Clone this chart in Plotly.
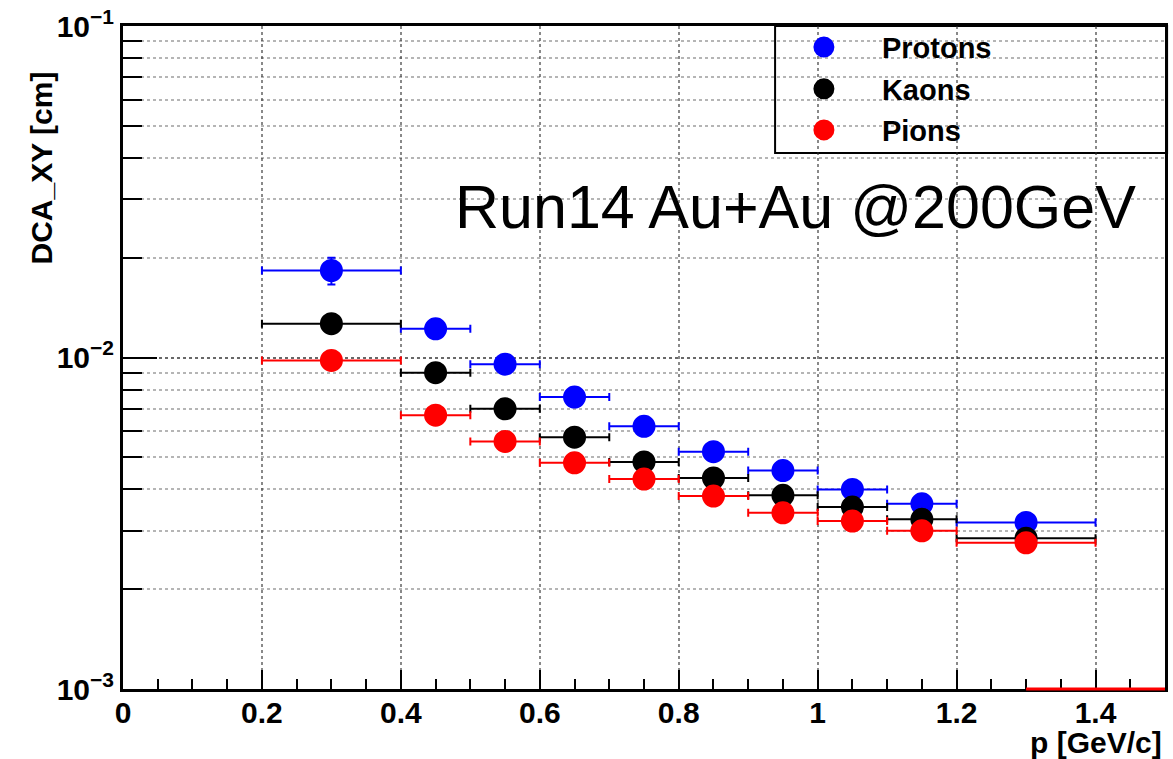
import plotly.graph_objects as go

# momentum bins (GeV/c): centres and half-widths
p_center = [0.3, 0.45, 0.55, 0.65, 0.75, 0.85, 0.95, 1.05, 1.15, 1.3]
p_halfwidth = [0.1, 0.05, 0.05, 0.05, 0.05, 0.05, 0.05, 0.05, 0.05, 0.1]

# DCA_XY resolution (cm) per species
protons = [0.0183, 0.0122, 0.00955, 0.0076, 0.0062, 0.0052, 0.00456, 0.0040, 0.00362, 0.00318]
protons_err = [0.0017, 0.0004, 0.0003, 0.0002, 0.00015, 0.00012, 0.0001, 0.0001, 0.0001, 0.0001]
kaons = [0.01265, 0.0090, 0.0070, 0.00575, 0.00484, 0.00433, 0.00384, 0.00354, 0.00325, 0.00285]
kaons_err = [0.0006, 0.0003, 0.0002, 0.00015, 0.0001, 0.0001, 0.0001, 0.0001, 0.0001, 0.0001]
pions = [0.0098, 0.0067, 0.00558, 0.00481, 0.0043, 0.00382, 0.0034, 0.00321, 0.0030, 0.00276]
pions_err = [0.0003, 0.0002, 0.00015, 0.0001, 0.0001, 0.0001, 0.0001, 0.0001, 0.0001, 0.0001]

# pion bins that fall below the axis floor
pion_floor_x = [1.3, 1.5]

species = [
    ("Protons", protons, protons_err, "#0000ff", "legend", 0.968),
    ("Kaons", kaons, kaons_err, "#000000", "legend2", 0.905),
    ("Pions", pions, pions_err, "#ff0000", "legend3", 0.843),
]

y_tickvals = [1e-3, 1e-2, 1e-1]
y_ticktext = ["10<sup>\u22123</sup>", "10<sup>\u22122</sup>", "10<sup>\u22121</sup>"]

FONT = "Liberation Sans"
GRID = "rgba(40,40,40,0.55)"

fig = go.Figure()
legends = {}
for name, vals, errs, color, leg, ly in species:
    fig.add_trace(go.Scatter(
        x=p_center, y=vals, mode="markers", name=name, legend=leg,
        # outline in the same colour keeps the legend symbols full-sized
        marker=dict(symbol="circle", size=18, color=color,
                    line=dict(color=color, width=5)),
        error_x=dict(type="data", array=p_halfwidth, color=color, thickness=2, width=4),
        error_y=dict(type="data", array=errs, color=color, thickness=2, width=4),
    ))
    legends[leg] = dict(
        x=0.617, y=ly, xanchor="left", yanchor="middle",
        bgcolor="rgba(0,0,0,0)", borderwidth=0, itemwidth=106,
        font=dict(family=FONT, size=29, color="black", weight="bold"),
    )

fig.update_layout(
    width=1173, height=759,
    margin=dict(l=123, r=5, t=26, b=70),
    paper_bgcolor="white", plot_bgcolor="white",
    showlegend=True,
    **legends,
    xaxis=dict(
        range=[0, 1.5], dtick=0.2, tick0=0,
        ticks="inside", ticklen=19, tickwidth=2, tickcolor="black",
        showline=True, linewidth=3, linecolor="black", mirror=True,
        showgrid=True, gridcolor=GRID, griddash="dot", gridwidth=1.5,
        zeroline=False, ticklabelstandoff=-5,
        tickfont=dict(family=FONT, size=30, color="black", weight="bold"),
        minor=dict(dtick=0.05, ticks="inside", ticklen=10, tickwidth=2,
                   tickcolor="black", showgrid=False),
    ),
    yaxis=dict(
        type="log", range=[-3, -1],
        tickmode="array", tickvals=y_tickvals, ticktext=y_ticktext,
        ticks="inside", ticklen=34, tickwidth=2, tickcolor="black",
        showline=True, linewidth=3, linecolor="black", mirror=True,
        showgrid=True, gridcolor=GRID, griddash="dot", gridwidth=1.5,
        zeroline=False,
        tickfont=dict(family=FONT, size=30, color="black", weight="bold"),
        minor=dict(dtick="D1", ticks="inside", ticklen=19, tickwidth=2,
                   tickcolor="black", showgrid=True, gridcolor="rgba(90,90,90,0.45)",
                   griddash="dot", gridwidth=1.5),
    ),
)

# legend frame
fig.add_shape(type="rect", xref="paper", yref="paper",
              x0=0.6258, x1=1.002, y0=0.8085, y1=1.0,
              line=dict(color="black", width=2), fillcolor="white", layer="between")

# pion bins below range drawn along the lower edge
fig.add_shape(type="line", xref="x", yref="y domain",
              x0=pion_floor_x[0], x1=pion_floor_x[1], y0=0, y1=0,
              line=dict(color="#ff0000", width=3), layer="above")

fig.add_annotation(text="Run14 Au+Au @200GeV", xref="paper", yref="paper",
                   x=0.645, y=0.7275, xanchor="center", yanchor="middle", showarrow=False,
                   font=dict(family=FONT, size=61, color="black"))
fig.add_annotation(text="DCA_XY [cm]", xref="paper", yref="paper", textangle=-90,
                   x=-0.0785, y=0.934, xanchor="center", yanchor="top", showarrow=False,
                   font=dict(family=FONT, size=30, color="black", weight="bold"))
fig.add_annotation(text="p [GeV/c]", xref="paper", yref="paper",
                   x=0.999, y=-0.0814, xanchor="right", yanchor="middle", showarrow=False,
                   font=dict(family=FONT, size=30, color="black", weight="bold"))

fig.write_html("out.html")
